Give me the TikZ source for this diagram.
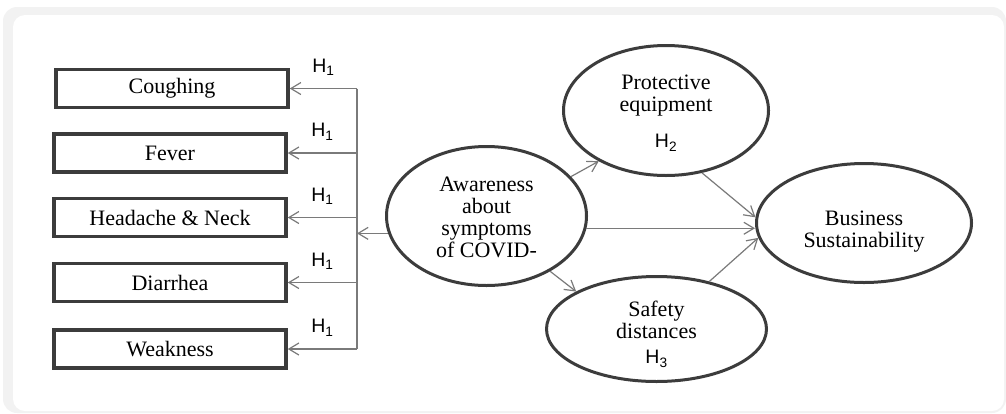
\documentclass[tikz,border=0pt]{standalone}
\usepackage{fontspec}
\setmainfont{Liberation Serif}
\newfontfamily\hfont{Liberation Sans}
\usetikzlibrary{shapes.geometric,arrows.meta}

\definecolor{linegray}{HTML}{3C3C3C}
\definecolor{arrowgray}{HTML}{7A7A7A}
\definecolor{framegray}{HTML}{F2F2F2}

\newcommand{\hyp}[1]{{\hfont\fontsize{19.5}{19.5}\selectfont H\textsubscript{#1}}}
\newcommand{\dropby}[2]{\raisebox{-#1}[\height][\depth]{#2}}

\tikzset{
symbox/.style={draw=linegray, line width=3.5pt, minimum width=232pt, minimum height=38pt, inner sep=0pt},
construct/.style={ellipse, draw=linegray, line width=3pt, inner sep=0pt},
busline/.style={draw=arrowgray, line width=1.2pt},
hyparrow/.style={busline, -{Straight Barb[length=10pt,width=12pt]}}
}

\begin{document}
\begin{tikzpicture}[x=1pt, y=-1pt, font=\fontsize{22}{22}\selectfont]

\useasboundingbox (0,0) rectangle (1006,413);

% MOLDURA
\fill[framegray, rounded corners=14pt] (3,7) rectangle (1006,413);
\fill[white, rounded corners=12pt] (13,15) rectangle (1004,411);

% SINTOMAS
\node[symbox] (cough) at (172,88.5) {Coughing};
\node[symbox] (fever) at (170,153) {Fever};
\node[symbox] (head) at (170,217.5) {Headache \& Neck};
\node[symbox] (diarr) at (170,282.5) {Diarrhea};
\node[symbox] (weak) at (170,349) {Weakness};

% CONSTRUTOS
\node[construct, minimum width=200pt, minimum height=139pt] (aware) at (486.5,216)
{\dropby{4pt}{
\begin{tabular}{c}
Awareness\\
about\\
symptoms\\
of COVID-
\end{tabular}
}};

\node[construct, minimum width=205pt, minimum height=130pt] (prot) at (666,110.5)
{\dropby{4pt}{
\begin{tabular}{c}
Protective\\
equipment\\[14pt]
\hyp{2}
\end{tabular}
}};

\node[construct, minimum width=220pt, minimum height=105pt] (safe) at (656.5,329)
{\dropby{7pt}{
\begin{tabular}{c}
Safety\\
distances\\[3pt]
\hyp{3}
\end{tabular}
}};

\node[construct, minimum width=215pt, minimum height=119pt] (biz) at (864,223)
{\dropby{9pt}{
\begin{tabular}{c}
Business\\
Sustainability
\end{tabular}
}};

% BARRAMENTO H1
\coordinate (bus) at (357,216);
\draw[busline] (bus |- cough.east) -- (bus |- weak.east);

\draw[hyparrow] (bus |- cough.east) -- (cough.east) node[midway, above=9pt] {\hyp{1}};
\draw[hyparrow] (bus |- fever.east) -- (fever.east) node[midway, above=9pt] {\hyp{1}};
\draw[hyparrow] (bus |- head.east) -- (head.east) node[midway, above=9pt] {\hyp{1}};
\draw[hyparrow] (bus |- diarr.east) -- (diarr.east) node[midway, above=9pt] {\hyp{1}};
\draw[hyparrow] (bus |- weak.east) -- (weak.east) node[midway, above=9pt] {\hyp{1}};

% ENTRADA DO BARRAMENTO
\draw[hyparrow] (aware.190) -- (bus |- aware.190);

% SETAS H2 E H3
\draw[hyparrow] (aware.25) -- (prot.217);
\draw[hyparrow] (aware.319) -- (safe.155);

% SETAS PARA SUSTENTABILIDADE
\draw[hyparrow] (aware.353) -- (aware.353 -| biz.west);
\draw[hyparrow] (prot.300) -- (biz.177);
\draw[hyparrow] (safe.42) -- (biz.188);

\end{tikzpicture}
\end{document}
